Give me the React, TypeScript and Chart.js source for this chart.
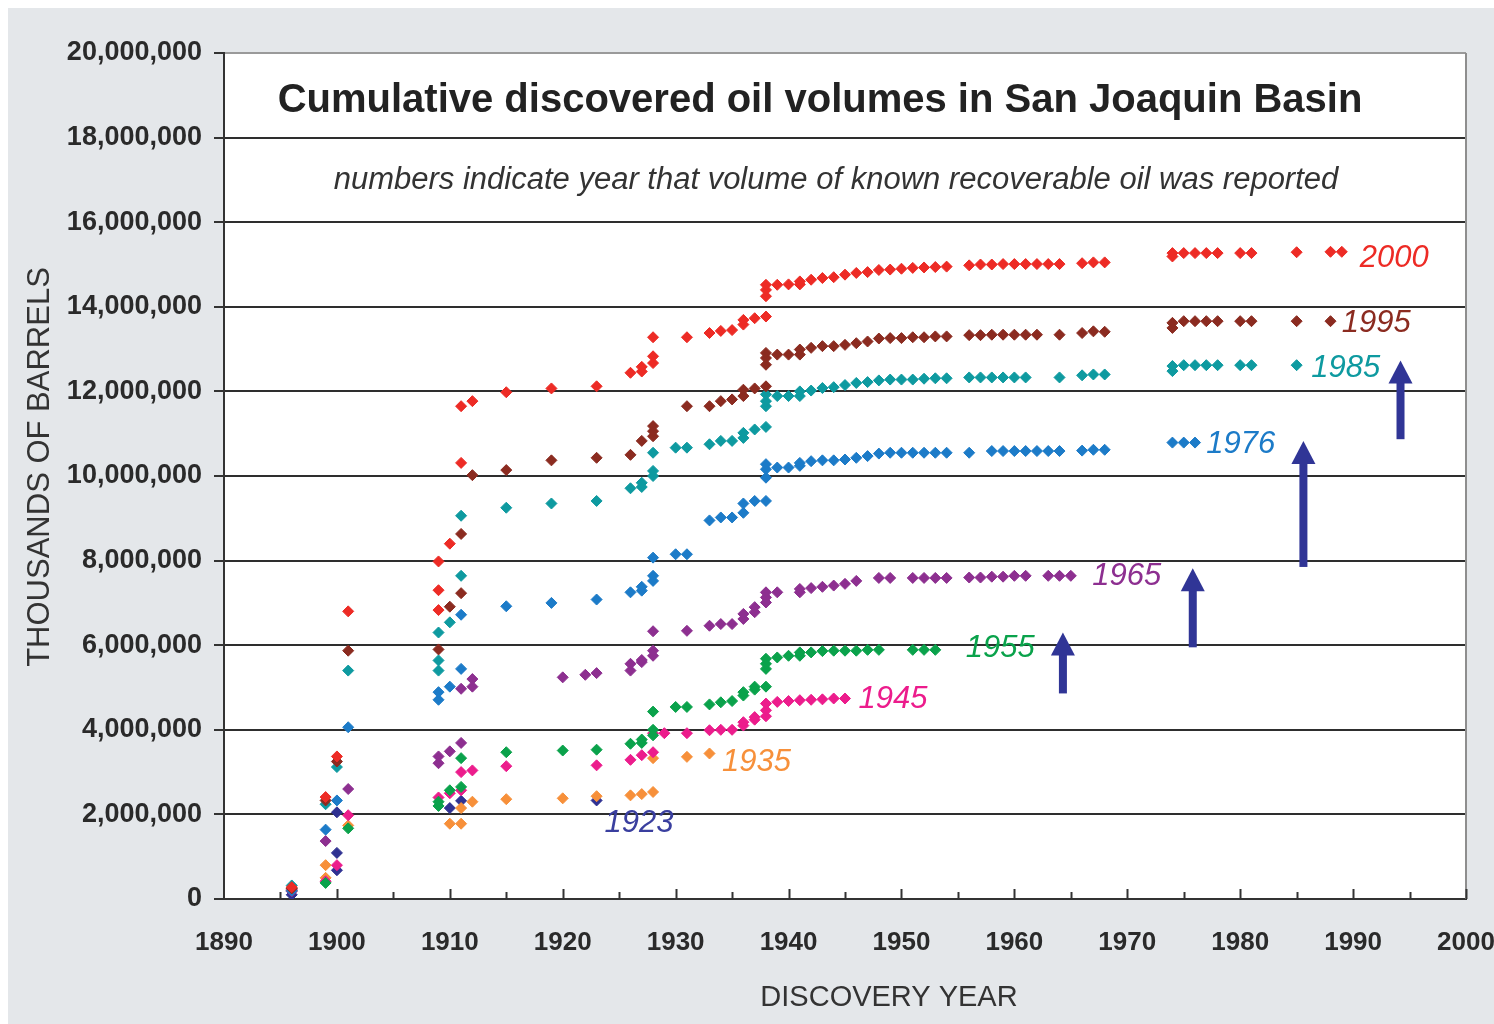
import React, { useEffect, useRef } from 'react';
import { Chart, registerables } from 'chart.js';

Chart.register(...registerables);

// ---------- DATA (x = discovery year, y = cumulative volume in millions of thousand-barrels) ----------
const reported2000: [number, number][] = [
  [1896, 0.28], [1899, 2.41], [1900, 3.37], [1901, 6.8], [1909, 6.83], [1909, 7.3], [1909, 7.98], [1910, 8.4],
  [1911, 10.31], [1911, 11.65], [1912, 11.77], [1915, 11.98], [1919, 12.07], [1923, 12.12], [1926, 12.44],
  [1927, 12.47], [1927, 12.58], [1928, 12.67], [1928, 12.83], [1928, 13.28], [1931, 13.28], [1933, 13.38],
  [1934, 13.43], [1935, 13.45], [1936, 13.58], [1936, 13.69], [1937, 13.73], [1938, 13.77], [1938, 14.25],
  [1938, 14.4], [1938, 14.52], [1939, 14.52], [1940, 14.53], [1941, 14.53], [1941, 14.6], [1942, 14.64],
  [1943, 14.68], [1944, 14.7], [1945, 14.76], [1946, 14.8], [1947, 14.82], [1948, 14.87], [1949, 14.88],
  [1950, 14.9], [1951, 14.92], [1952, 14.93], [1953, 14.94], [1954, 14.95], [1956, 14.98], [1957, 15.0],
  [1958, 15.0], [1959, 15.01], [1960, 15.01], [1961, 15.01], [1962, 15.01], [1963, 15.01], [1964, 15.01],
  [1966, 15.03], [1967, 15.05], [1968, 15.05], [1974, 15.19], [1974, 15.27], [1975, 15.27], [1976, 15.27],
  [1977, 15.27], [1978, 15.27], [1980, 15.27], [1981, 15.27], [1985, 15.29], [1988, 15.3], [1989, 15.3],
];

const reported1995: [number, number][] = [
  [1896, 0.25], [1899, 2.33], [1900, 3.25], [1901, 5.87], [1909, 5.9], [1910, 6.91], [1911, 7.23], [1911, 8.63],
  [1912, 10.02], [1915, 10.14], [1919, 10.37], [1923, 10.43], [1926, 10.5], [1927, 10.83], [1928, 10.94],
  [1928, 11.06], [1928, 11.18], [1931, 11.65], [1933, 11.65], [1934, 11.77], [1935, 11.81], [1936, 11.89],
  [1936, 12.04], [1937, 12.07], [1938, 12.12], [1938, 12.63], [1938, 12.79], [1938, 12.91], [1939, 12.87],
  [1940, 12.87], [1941, 12.87], [1941, 12.99], [1942, 13.03], [1943, 13.07], [1944, 13.07], [1945, 13.1],
  [1946, 13.14], [1947, 13.18], [1948, 13.25], [1949, 13.26], [1950, 13.26], [1951, 13.28], [1952, 13.28],
  [1953, 13.3], [1954, 13.3], [1956, 13.33], [1957, 13.33], [1958, 13.34], [1959, 13.34], [1960, 13.34],
  [1961, 13.34], [1962, 13.34], [1964, 13.34], [1966, 13.38], [1967, 13.42], [1968, 13.41], [1974, 13.5],
  [1974, 13.62], [1975, 13.66], [1976, 13.66], [1977, 13.66], [1978, 13.66], [1980, 13.66], [1981, 13.66],
  [1985, 13.66], [1988, 13.66],
];

const reported1985: [number, number][] = [
  [1896, 0.32], [1899, 2.24], [1900, 3.12], [1901, 5.4], [1909, 5.4], [1909, 5.64], [1909, 6.3], [1910, 6.54],
  [1911, 7.64], [1911, 9.06], [1915, 9.25], [1919, 9.35], [1923, 9.41], [1926, 9.71], [1927, 9.74], [1927, 9.84],
  [1928, 10.0], [1928, 10.12], [1928, 10.55], [1930, 10.67], [1931, 10.67], [1933, 10.75], [1934, 10.83],
  [1935, 10.83], [1936, 10.9], [1936, 11.02], [1937, 11.1], [1938, 11.16], [1938, 11.65], [1938, 11.77],
  [1938, 11.93], [1939, 11.89], [1940, 11.89], [1941, 11.89], [1941, 12.0], [1942, 12.02], [1943, 12.08],
  [1944, 12.1], [1945, 12.15], [1946, 12.2], [1947, 12.22], [1948, 12.26], [1949, 12.28], [1950, 12.28],
  [1951, 12.28], [1952, 12.3], [1953, 12.31], [1954, 12.31], [1956, 12.33], [1957, 12.33], [1958, 12.33],
  [1959, 12.33], [1960, 12.33], [1961, 12.33], [1964, 12.33], [1966, 12.38], [1967, 12.4], [1968, 12.4],
  [1974, 12.48], [1974, 12.6], [1975, 12.62], [1976, 12.62], [1977, 12.62], [1978, 12.62], [1980, 12.62],
  [1981, 12.62], [1985, 12.62],
];

const reported1976: [number, number][] = [
  [1896, 0.2], [1899, 1.64], [1900, 2.33], [1901, 4.06], [1909, 4.71], [1909, 4.89], [1910, 5.02], [1911, 5.44],
  [1911, 6.72], [1915, 6.92], [1919, 7.0], [1923, 7.08], [1926, 7.25], [1927, 7.29], [1927, 7.38], [1928, 7.52],
  [1928, 7.64], [1928, 8.07], [1930, 8.15], [1931, 8.15], [1933, 8.95], [1934, 9.02], [1935, 9.02], [1936, 9.13],
  [1936, 9.35], [1937, 9.41], [1938, 9.41], [1938, 9.96], [1938, 10.16], [1938, 10.28], [1939, 10.2],
  [1940, 10.2], [1941, 10.24], [1941, 10.31], [1942, 10.35], [1943, 10.37], [1944, 10.37], [1945, 10.39],
  [1946, 10.43], [1947, 10.47], [1948, 10.53], [1949, 10.55], [1950, 10.55], [1951, 10.55], [1952, 10.55],
  [1953, 10.55], [1954, 10.55], [1956, 10.55], [1958, 10.59], [1959, 10.59], [1960, 10.59], [1961, 10.59],
  [1962, 10.59], [1963, 10.59], [1964, 10.59], [1966, 10.6], [1967, 10.62], [1968, 10.62], [1974, 10.79],
  [1975, 10.79], [1976, 10.79],
];

const reported1965: [number, number][] = [
  [1896, 0.18], [1899, 1.37], [1901, 2.6], [1909, 3.21], [1909, 3.37], [1910, 3.49], [1911, 3.69], [1911, 4.97],
  [1912, 5.02], [1912, 5.2], [1920, 5.24], [1922, 5.3], [1923, 5.34], [1926, 5.4], [1926, 5.56], [1927, 5.6],
  [1927, 5.65], [1928, 5.75], [1928, 5.87], [1928, 6.33], [1931, 6.34], [1933, 6.46], [1934, 6.5], [1935, 6.5],
  [1936, 6.62], [1936, 6.74], [1937, 6.78], [1937, 6.9], [1938, 7.01], [1938, 7.13], [1938, 7.25], [1939, 7.25],
  [1941, 7.25], [1941, 7.33], [1942, 7.35], [1943, 7.38], [1944, 7.41], [1945, 7.45], [1946, 7.52], [1948, 7.59],
  [1949, 7.59], [1951, 7.59], [1952, 7.59], [1953, 7.59], [1954, 7.59], [1956, 7.6], [1957, 7.6], [1958, 7.62],
  [1959, 7.62], [1960, 7.64], [1961, 7.64], [1963, 7.64], [1964, 7.64], [1965, 7.64],
];

const reported1955: [number, number][] = [
  [1896, 0.26], [1899, 0.38], [1901, 1.67], [1909, 2.2], [1909, 2.3], [1910, 2.57], [1911, 2.65], [1911, 3.33],
  [1915, 3.47], [1920, 3.51], [1923, 3.53], [1926, 3.67], [1927, 3.69], [1927, 3.77], [1928, 3.87], [1928, 4.0],
  [1928, 4.43], [1930, 4.54], [1931, 4.54], [1933, 4.6], [1934, 4.65], [1935, 4.68], [1936, 4.81], [1936, 4.89],
  [1937, 4.95], [1937, 5.02], [1938, 5.02], [1938, 5.44], [1938, 5.56], [1938, 5.68], [1939, 5.71], [1940, 5.75],
  [1941, 5.75], [1941, 5.83], [1942, 5.83], [1943, 5.86], [1944, 5.87], [1945, 5.87], [1946, 5.87], [1947, 5.89],
  [1948, 5.89], [1951, 5.89], [1952, 5.89], [1953, 5.89],
];

const reported1945: [number, number][] = [
  [1896, 0.22], [1899, 0.42], [1900, 0.8], [1901, 1.98], [1909, 2.4], [1910, 2.5], [1911, 2.57], [1911, 3.0],
  [1912, 3.04], [1915, 3.14], [1923, 3.16], [1926, 3.29], [1927, 3.4], [1928, 3.47], [1928, 3.92], [1929, 3.92],
  [1931, 3.92], [1933, 3.99], [1934, 4.0], [1935, 4.0], [1936, 4.1], [1936, 4.18], [1937, 4.24], [1937, 4.3],
  [1938, 4.32], [1938, 4.46], [1938, 4.62], [1939, 4.66], [1940, 4.68], [1941, 4.7], [1942, 4.71], [1943, 4.72],
  [1944, 4.74], [1945, 4.74],
];

const reported1935: [number, number][] = [
  [1896, 0.2], [1899, 0.5], [1899, 0.8], [1901, 1.74], [1910, 1.78], [1911, 1.78], [1911, 2.15], [1912, 2.3],
  [1915, 2.36], [1920, 2.38], [1923, 2.43], [1926, 2.45], [1927, 2.48], [1928, 2.53], [1928, 3.33], [1931, 3.36],
  [1933, 3.44],
];

const reported1923: [number, number][] = [
  [1896, 0.1], [1900, 0.68], [1900, 1.09], [1900, 2.05], [1910, 2.15], [1911, 2.32], [1923, 2.33],
];

const seriesNames = ['2000', '1995', '1985', '1976', '1965', '1955', '1945', '1935', '1923'];
const seriesData = [reported2000, reported1995, reported1985, reported1976, reported1965, reported1955, reported1945, reported1935, reported1923];
const seriesColors = ['#ed2b25', '#8b2b20', '#0e9aa0', '#1c7bc8', '#8d2f90', '#0aa24b', '#ec1c8c', '#f7903a', '#2f3192'];
const labelColors = ['#ed2b25', '#8b2b20', '#0e9aa0', '#1c7bc8', '#8d2f90', '#0aa24b', '#ec1c8c', '#f7903a', '#3a3f9f'];

// series label anchor positions (left edge, vertical centre), in data coordinates
const labelYears = [1990.6, 1989.0, 1986.3, 1977.0, 1966.9, 1955.7, 1946.2, 1934.1, 1923.7];
const labelValues = [15.14, 13.61, 12.55, 10.75, 7.62, 5.92, 4.72, 3.23, 1.79];

// arrows: x year, tail value, tip value
const arrowYears = [1964.3, 1975.8, 1985.6, 1994.2];
const arrowTails = [4.86, 5.95, 7.85, 10.87];
const arrowTips = [6.3, 7.82, 10.83, 12.73];

const titleText = 'Cumulative discovered oil volumes in San Joaquin Basin';
const subtitleText = 'numbers indicate year that volume of known recoverable oil was reported';
const yAxisTitle = 'THOUSANDS OF BARRELS';
const xAxisTitle = 'DISCOVERY YEAR';

const FONT = "'Liberation Sans', Arial, Helvetica, sans-serif";
const W = 1486;
const H = 1016;

const decorPlugin = {
  id: 'decor',
  beforeDraw(chart: any) {
    const { ctx, chartArea: a } = chart;
    ctx.save();
    ctx.fillStyle = '#ffffff';
    ctx.fillRect(a.left, a.top, a.right - a.left, a.bottom - a.top);
    ctx.restore();
  },
  afterDraw(chart: any) {
    const { ctx, chartArea: a, scales } = chart;
    const xs = scales.x;
    const ys = scales.y;
    ctx.save();
    // right border
    ctx.strokeStyle = '#8e8e8e';
    ctx.lineWidth = 2;
    ctx.beginPath();
    ctx.moveTo(a.right, a.top);
    ctx.lineTo(a.right, a.bottom);
    ctx.stroke();
    // inward x ticks every 5 years
    ctx.strokeStyle = '#333333';
    ctx.lineWidth = 2;
    for (let yr = 1895; yr <= 2000; yr += 5) {
      const px = Math.round(xs.getPixelForValue(yr)) + 0.5;
      const len = yr % 10 === 0 ? 10 : 7;
      ctx.beginPath();
      ctx.moveTo(px, a.bottom);
      ctx.lineTo(px, a.bottom - len);
      ctx.stroke();
    }
    // title + subtitle
    ctx.textAlign = 'center';
    ctx.textBaseline = 'middle';
    ctx.fillStyle = '#222222';
    ctx.font = `bold 40px ${FONT}`;
    ctx.fillText(titleText, 812, 93);
    ctx.fillStyle = '#333333';
    ctx.font = `italic 31px ${FONT}`;
    ctx.fillText(subtitleText, 828, 172);
    // axis titles
    ctx.fillStyle = '#333333';
    ctx.font = `29px ${FONT}`;
    ctx.fillText(xAxisTitle, 881, 990);
    ctx.save();
    ctx.translate(32, 459);
    ctx.rotate(-Math.PI / 2);
    ctx.font = `31px ${FONT}`;
    ctx.fillText(yAxisTitle, 0, 0);
    ctx.restore();
    // series labels
    ctx.textAlign = 'left';
    ctx.font = `italic 31px ${FONT}`;
    for (let i = 0; i < seriesNames.length; i++) {
      ctx.fillStyle = labelColors[i];
      ctx.fillText(seriesNames[i], xs.getPixelForValue(labelYears[i]), ys.getPixelForValue(labelValues[i]));
    }
    // arrows
    ctx.fillStyle = '#303596';
    for (let i = 0; i < arrowYears.length; i++) {
      const x = xs.getPixelForValue(arrowYears[i]);
      const yTail = ys.getPixelForValue(arrowTails[i]);
      const yTip = ys.getPixelForValue(arrowTips[i]);
      const headH = 23;
      const headW = 24;
      const shaft = 8;
      ctx.fillRect(x - shaft / 2, yTip + headH - 1, shaft, yTail - (yTip + headH - 1));
      ctx.beginPath();
      ctx.moveTo(x, yTip);
      ctx.lineTo(x + headW / 2, yTip + headH);
      ctx.lineTo(x - headW / 2, yTip + headH);
      ctx.closePath();
      ctx.fill();
    }
    ctx.restore();
  },
};

export default function App() {
  const canvasRef = useRef<HTMLCanvasElement | null>(null);

  useEffect(() => {
    const canvas = canvasRef.current;
    if (!canvas) return;
    const datasets = seriesData.map((pts, i) => ({
      label: seriesNames[i],
      data: pts.map(([x, y]) => ({ x, y })),
      backgroundColor: seriesColors[i],
      borderColor: seriesColors[i],
      pointStyle: 'rectRot' as const,
      pointRadius: 5.5,
      pointBorderWidth: 1,
      showLine: false,
    }));
    const chart = new Chart(canvas, {
      type: 'scatter',
      data: { datasets },
      plugins: [decorPlugin],
      options: {
        animation: false,
        responsive: false,
        devicePixelRatio: 1,
        events: [],
        layout: { padding: { left: 0, top: 45, right: 28, bottom: 0 } },
        plugins: { legend: { display: false }, tooltip: { enabled: false }, title: { display: false } },
        scales: {
          x: {
            type: 'linear',
            min: 1890,
            max: 2000,
            grid: { display: false, drawTicks: false },
            border: { display: true, color: '#333333', width: 2 },
            ticks: {
              stepSize: 10,
              autoSkip: false,
              maxRotation: 0,
              padding: 28,
              color: '#2a2a2a',
              font: { family: FONT, size: 26, weight: 'bold' },
              callback: (v: any) => String(v),
            },
            afterFit: (scale: any) => {
              scale.height = 125;
              scale.paddingLeft = 0;
              scale.paddingRight = 0;
            },
          },
          y: {
            type: 'linear',
            min: 0,
            max: 20,
            grid: {
              color: (c: any) => (c.tick && c.tick.value === 20 ? '#9a9a9a' : '#2e2e2e'),
              lineWidth: 2,
              drawTicks: true,
              tickLength: 10,
              tickColor: '#333333',
            },
            border: { display: true, color: '#333333', width: 2 },
            ticks: {
              stepSize: 2,
              padding: 12,
              color: '#2a2a2a',
              font: { family: FONT, size: 27, weight: 'bold' },
              callback: (v: any) => (Number(v) * 1000000).toLocaleString('en-US'),
            },
            afterFit: (scale: any) => {
              scale.width = 216;
              scale.paddingTop = 0;
              scale.paddingBottom = 0;
            },
          },
        },
      },
    });
    return () => chart.destroy();
  }, []);

  return (
    <div style={{ position: 'fixed', left: 8, top: 8, width: W, height: H, background: '#e4e7ea' }}>
      <canvas ref={canvasRef} width={W} height={H} style={{ display: 'block', width: W, height: H }} />
    </div>
  );
}
